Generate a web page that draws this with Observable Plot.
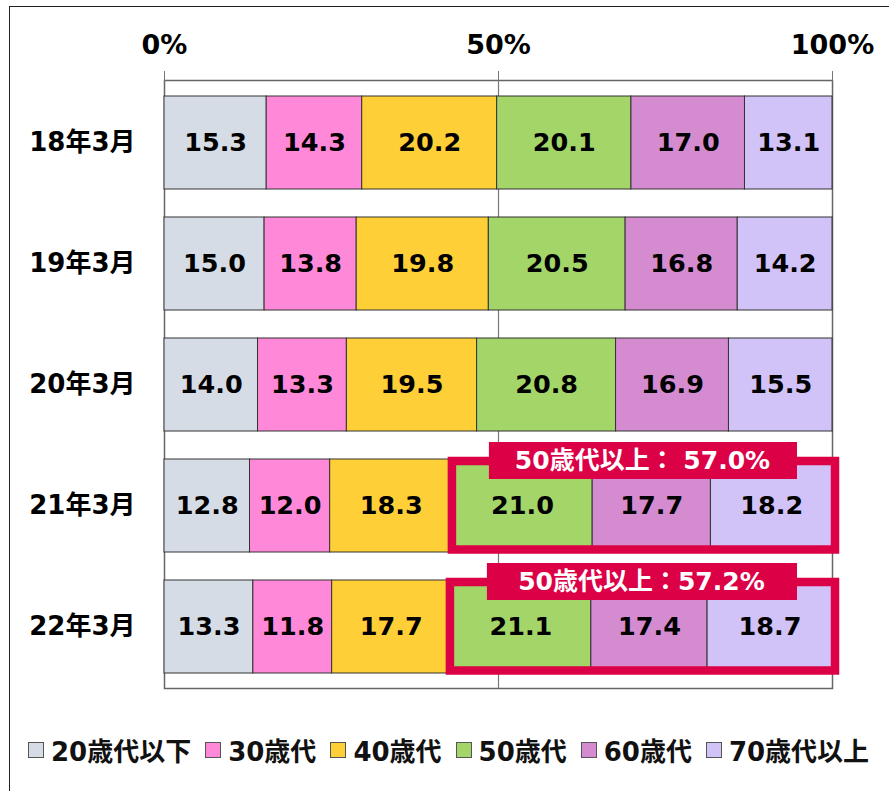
<!DOCTYPE html>
<html>
<head>
<meta charset="utf-8">
<script src="https://cdn.jsdelivr.net/npm/d3@7"></script>
<script src="https://cdn.jsdelivr.net/npm/@observablehq/plot@0.6"></script>
<style>
  html, body { margin: 0; padding: 0; background: #fff; overflow: hidden; }
  body { width: 889px; height: 791px; position: relative; font-family: "DejaVu Sans", "Noto Sans CJK JP", sans-serif; }
  #frame { position: absolute; left: 9px; top: 6px; width: 900px; height: 800px; border-left: 1.5px solid #222; border-top: 1.5px solid #222; pointer-events: none; }
  #chart { position: absolute; left: 0; top: 0; }
  #legend { position: absolute; left: 28px; top: 731px; display: flex; align-items: center; gap: 14px; font-weight: bold; font-size: 26px; color: #111; white-space: nowrap; }
  .item { display: flex; align-items: center; gap: 7px; }
  .sw { width: 14px; height: 14px; border: 1.5px solid #555; }
</style>
</head>
<body>
<div id="chart"></div>
<div id="legend"></div>
<div id="frame"></div>
<script>
const periods = ["18年3月", "19年3月", "20年3月", "21年3月", "22年3月"];
const ageGroups = ["20歳代以下", "30歳代", "40歳代", "50歳代", "60歳代", "70歳代以上"];
const v20 = [15.3, 15.0, 14.0, 12.8, 13.3];
const v30 = [14.3, 13.8, 13.3, 12.0, 11.8];
const v40 = [20.2, 19.8, 19.5, 18.3, 17.7];
const v50 = [20.1, 20.5, 20.8, 21.0, 21.1];
const v60 = [17.0, 16.8, 16.9, 17.7, 17.4];
const v70 = [13.1, 14.2, 15.5, 18.2, 18.7];
const colors = ["#D6DCE5", "#FF89D8", "#FFCF37", "#A3D568", "#D58BD0", "#D1C2F7"];
const xTicks = [0, 0.5, 1];
const highlightPeriods = ["21年3月", "22年3月"];
const highlightLabels = ["50歳代以上： 57.0%", "50歳代以上：57.2%"];
const red = "#DC0046";

const series = [v20, v30, v40, v50, v60, v70];
const rows = [];
periods.forEach((p, i) => {
  ageGroups.forEach((g, j) => rows.push({period: p, group: g, value: series[j][i]}));
});

const highlight = highlightPeriods.map((p, k) => {
  const i = periods.indexOf(p);
  const total = series.reduce((s, arr) => s + arr[i], 0);
  const start = (v20[i] + v30[i] + v40[i]) / total;
  return {period: p, x1: start, x2: 1, mid: (start + 1) / 2, label: highlightLabels[k]};
});

const font = "'DejaVu Sans', 'Noto Sans CJK JP', sans-serif";

const chart = Plot.plot({
  width: 889,
  height: 700,
  marginLeft: 164,
  marginRight: 57,
  marginTop: 80,
  marginBottom: 12,
  style: {fontFamily: font, fontWeight: "bold", fontSize: "25px", color: "#000", background: "transparent"},
  x: {domain: [0, 1]},
  y: {domain: periods, paddingInner: 0.235, paddingOuter: 0.1175},
  color: {domain: ageGroups, range: colors},
  marks: [
    Plot.frame({stroke: "#666", strokeWidth: 1.5}),
    Plot.ruleX([0.5], {stroke: "#777", strokeWidth: 1.2}),
    Plot.axisX({anchor: "top", ticks: xTicks, tickFormat: d => Math.round(d * 100) + "%", tickSize: 10, tickPadding: 17, stroke: "#777", fontSize: 27, fontWeight: "bold", label: null}),
    Plot.axisY({anchor: "left", tickSize: 0, tickPadding: 29, fontSize: 26, fontWeight: "bold", label: null}),
    Plot.barX(rows, Plot.stackX({x: "value", y: "period", fill: "group", offset: "normalize", stroke: "#333", strokeWidth: 1})),
    Plot.text(rows, Plot.stackX({x: "value", y: "period", z: "group", offset: "normalize", text: d => d.value.toFixed(1), fill: "#000", fontSize: 25.5, fontWeight: "bold"})),
    Plot.barX(highlight, {x1: "x1", x2: "x2", y: "period", fill: "none", stroke: red, strokeWidth: 8.5, insetLeft: 0, insetRight: -3, insetTop: 2, insetBottom: 2.5}),
    Plot.barX(highlight, {x1: "x1", x2: "x2", y: "period", fill: red, insetLeft: 37, insetRight: 35, insetTop: -17, insetBottom: 73}),
    Plot.text(highlight, {x: "mid", y: "period", text: "label", dy: -45, fill: "#fff", fontSize: 25, fontWeight: "bold"})
  ]
});
document.getElementById("chart").appendChild(chart);

const legend = document.getElementById("legend");
ageGroups.forEach((g, j) => {
  const item = document.createElement("div");
  item.className = "item";
  const sw = document.createElement("div");
  sw.className = "sw";
  sw.style.background = colors[j];
  const t = document.createElement("span");
  t.textContent = g;
  item.appendChild(sw);
  item.appendChild(t);
  legend.appendChild(item);
});
</script>
</body>
</html>
